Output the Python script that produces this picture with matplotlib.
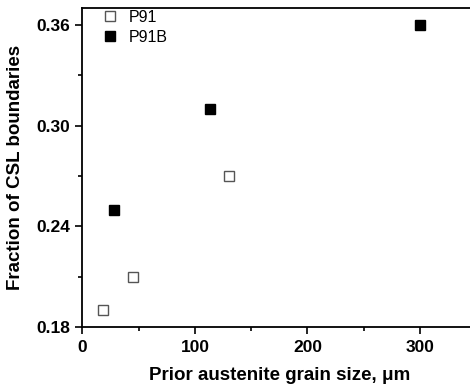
import matplotlib
matplotlib.use('Agg')
import matplotlib.pyplot as plt
from matplotlib.ticker import MultipleLocator

plt.rcParams['font.family'] = ['Liberation Sans', 'DejaVu Sans']

p91_size = [18, 45, 130]
p91_csl = [0.19, 0.21, 0.27]
p91b_size = [28, 113, 300]
p91b_csl = [0.25, 0.31, 0.36]

fig = plt.figure(figsize=(4.7, 3.9), dpi=100)
ax = fig.add_axes([0.1755, 0.1615, 0.8378, 0.8175])

ax.plot(p91_size, p91_csl, 's', ls='none', ms=6.5, mfc='white', mec='#555555', mew=1, label='P91')
ax.plot(p91b_size, p91b_csl, 's', ls='none', ms=6.5, mfc='black', mec='black', label='P91B')

ax.set_xlim(0, 350)
ax.set_ylim(0.18, 0.37)
ax.xaxis.set_major_locator(MultipleLocator(100))
ax.xaxis.set_minor_locator(MultipleLocator(50))
ax.yaxis.set_minor_locator(MultipleLocator(0.03))
ax.set_yticks([0.18, 0.24, 0.30, 0.36])
ax.set_yticklabels(['0.18', '0.24', '0.30', '0.36'])

ax.tick_params(which='major', length=5, width=1.2, labelsize=12.5, pad=4)
ax.tick_params(which='minor', length=3, width=1.2)
for lab in ax.get_xticklabels() + ax.get_yticklabels():
    lab.set_fontweight('bold')
for s in ax.spines.values():
    s.set_linewidth(1.3)
ax.spines['right'].set_visible(False)

ax.set_xlabel('Prior austenite grain size, μm', fontsize=13.5, fontweight='bold', labelpad=9)
ax.set_ylabel('Fraction of CSL boundaries', fontsize=13.5, fontweight='bold', labelpad=9)

ax.legend(loc='upper left', frameon=False, fontsize=11.5, handletextpad=0.6,
          borderaxespad=0.2, labelspacing=0.3, handlelength=1.2,
          bbox_to_anchor=(0.02, 1.025))

fig.savefig('out.png', dpi=100)
